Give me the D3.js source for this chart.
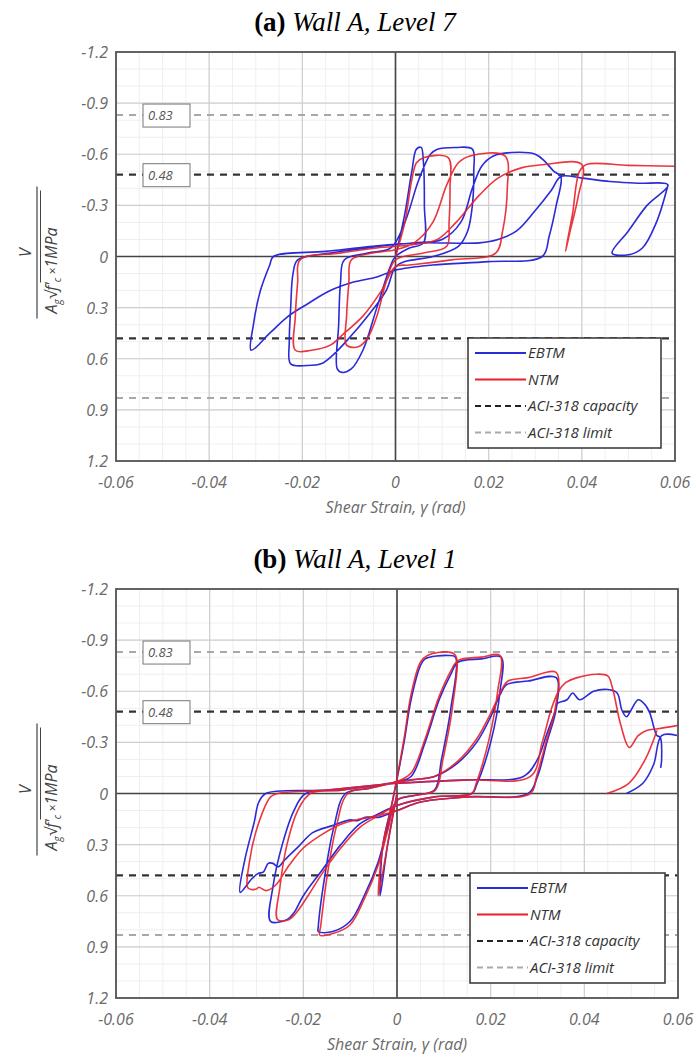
<!DOCTYPE html>
<html>
<head>
<meta charset="utf-8">
<script src="https://cdn.jsdelivr.net/npm/d3@7"></script>
<style>
  body { margin: 0; background: #fff; }
  svg { display: block; }
  .tick-label { font-family: "Open Sans", sans-serif; font-style: italic; fill: #6a6a6a; font-size: 16px; }
  .title { font-family: "Liberation Serif", "Times New Roman", serif; font-size: 27px; fill: #000; }
  .legend-text { font-family: "Open Sans", sans-serif; font-style: italic; font-size: 15px; fill: #333; }
</style>
</head>
<body>
<div id="chart"></div>
<script>
var width = 696;
var height = 1059;

// axis ticks
var strainTicks = [-0.06, -0.04, -0.02, 0, 0.02, 0.04, 0.06];
var vTicks = [-1.2, -0.9, -0.6, -0.3, 0, 0.3, 0.6, 0.9, 1.2];

// ACI-318 reference levels
var aciCapacity = 0.48;
var aciLimit = 0.83;

var legendLabels = ["EBTM", "NTM", "ACI-318 capacity", "ACI-318 limit"];

// Wall A, Level 7 -- [shear strain (rad), normalised shear]
var level7Ebtm = [
  [0, 0], [0.002, -0.25], [0.0035, -0.5], [0.0045, -0.63], [0.0055, -0.64], [0.006, -0.55], [0.0062, -0.3], [0.006, -0.08],
  [0.003, -0.05], [0, 0], [-0.001, 0.05], [-0.004, 0.3], [-0.007, 0.55], [-0.0095, 0.66], [-0.0115, 0.68], [-0.0125, 0.66],
  [-0.0122, 0.4], [-0.0118, 0.15], [-0.011, 0.02], [-0.006, -0.02], [-0.001, -0.05],
  [0.002, -0.2], [0.005, -0.45], [0.0075, -0.6], [0.009, -0.63], [0.013, -0.64], [0.0165, -0.63], [0.0168, -0.5], [0.0165, -0.3],
  [0.0155, -0.15], [0.0135, -0.06], [0.008, 0.0], [0.002, 0.03], [0, 0.06],
  [-0.002, 0.2], [-0.006, 0.35], [-0.01, 0.48], [-0.0135, 0.58], [-0.016, 0.63], [-0.019, 0.64], [-0.0225, 0.63], [-0.0228, 0.5],
  [-0.0225, 0.3], [-0.022, 0.1], [-0.021, 0.02], [-0.014, -0.02], [-0.006, -0.05], [0, -0.07],
  [0.004, -0.08], [0.01, -0.1], [0.014, -0.2], [0.0165, -0.4], [0.0185, -0.53], [0.021, -0.59], [0.025, -0.61], [0.03, -0.6],
  [0.032, -0.56], [0.034, -0.5], [0.0355, -0.47], [0.0345, -0.3], [0.033, -0.12], [0.0315, 0.0], [0.02, 0.03], [0.008, 0.05], [0, 0.08],
  [-0.004, 0.12], [-0.009, 0.15], [-0.014, 0.2], [-0.019, 0.28], [-0.023, 0.35], [-0.027, 0.45], [-0.031, 0.55], [-0.0305, 0.4],
  [-0.029, 0.2], [-0.027, 0.05], [-0.0262, 0.0], [-0.015, -0.03], [-0.005, -0.06], [0.005, -0.08], [0.018, -0.08],
  [0.022, -0.1], [0.026, -0.15], [0.03, -0.27], [0.0335, -0.39], [0.0355, -0.47], [0.04, -0.46], [0.046, -0.44], [0.052, -0.43],
  [0.0585, -0.42], [0.054, -0.3], [0.05, -0.15], [0.0465, -0.02], [0.05, -0.01], [0.053, -0.05], [0.056, -0.2], [0.0585, -0.42]
];
var level7Ntm = [
  [0, 0], [0.002, -0.2], [0.0035, -0.45], [0.0045, -0.55], [0.006, -0.58], [0.0113, -0.58], [0.0117, -0.4], [0.0115, -0.2],
  [0.011, -0.06], [0.006, -0.02], [0, 0.02],
  [-0.002, 0.15], [-0.004, 0.35], [-0.006, 0.48], [-0.008, 0.53], [-0.0105, 0.52], [-0.0105, 0.35], [-0.01, 0.15], [-0.0095, 0.02],
  [-0.005, -0.02], [0, -0.04],
  [0.004, -0.08], [0.008, -0.2], [0.011, -0.42], [0.0135, -0.55], [0.016, -0.59], [0.0235, -0.59], [0.024, -0.4], [0.023, -0.15],
  [0.0215, -0.02], [0.012, 0.02], [0.003, 0.05], [0, 0.06],
  [-0.003, 0.2], [-0.007, 0.35], [-0.011, 0.45], [-0.014, 0.52], [-0.018, 0.55], [-0.0215, 0.55], [-0.0215, 0.35], [-0.021, 0.15],
  [-0.0205, 0.02], [-0.012, -0.02], [-0.004, -0.05], [0.004, -0.07],
  [0.009, -0.1], [0.013, -0.2], [0.018, -0.36], [0.022, -0.46], [0.027, -0.52], [0.032, -0.54], [0.04, -0.54], [0.0392, -0.35],
  [0.0375, -0.15], [0.0365, -0.03], [0.038, -0.25], [0.0395, -0.5], [0.041, -0.54], [0.05, -0.535], [0.06, -0.53]
];

// Wall A, Level 1
var level1Ebtm = [
  [0, 0], [-0.002, 0.3], [-0.0036, 0.6], [-0.003, 0.3], [-0.001, 0.05],
  [0.0015, -0.3], [0.003, -0.55], [0.005, -0.75], [0.006, -0.79], [0.011, -0.81], [0.0125, -0.8], [0.0115, -0.5], [0.0095, -0.2],
  [0.008, -0.02], [0.004, 0.01], [0, 0.04],
  [-0.002, 0.2], [-0.004, 0.4], [-0.007, 0.6], [-0.01, 0.75], [-0.0137, 0.81], [-0.0168, 0.81], [-0.0168, 0.78], [-0.0155, 0.5],
  [-0.0135, 0.2], [-0.011, 0.0], [-0.006, -0.03], [0, -0.07],
  [0.003, -0.1], [0.006, -0.3], [0.009, -0.55], [0.0115, -0.7], [0.013, -0.77], [0.018, -0.79], [0.0222, -0.8], [0.022, -0.6],
  [0.02, -0.3], [0.017, -0.05], [0.016, 0.0], [0.008, 0.02], [0, 0.07],
  [-0.004, 0.12], [-0.008, 0.18], [-0.012, 0.3], [-0.016, 0.45], [-0.02, 0.6], [-0.022, 0.7], [-0.0235, 0.74], [-0.027, 0.75],
  [-0.0265, 0.55], [-0.0245, 0.3], [-0.022, 0.1], [-0.0195, 0.0], [-0.012, -0.02], [-0.004, -0.05], [0.003, -0.08],
  [0.008, -0.1], [0.013, -0.18], [0.017, -0.3], [0.02, -0.45], [0.022, -0.58], [0.0235, -0.64], [0.028, -0.66], [0.034, -0.68],
  [0.034, -0.5], [0.032, -0.3], [0.03, -0.1], [0.028, 0.0], [0.015, 0.02], [0.005, 0.05], [0, 0.1],
  [-0.004, 0.14], [-0.0068, 0.14], [-0.0085, 0.16], [-0.01, 0.155], [-0.014, 0.19], [-0.018, 0.23], [-0.021, 0.31], [-0.024, 0.39],
  [-0.0254, 0.43], [-0.0265, 0.41], [-0.0275, 0.41], [-0.0285, 0.46], [-0.0297, 0.47], [-0.031, 0.5], [-0.0335, 0.58],
  [-0.0325, 0.39], [-0.0305, 0.17], [-0.0295, 0.05], [-0.028, 0.0], [-0.015, -0.02], [0, -0.06], [0.015, -0.08], [0.027, -0.1],
  [0.03, -0.2], [0.032, -0.35], [0.034, -0.5], [0.0343, -0.53], [0.0363, -0.55], [0.0375, -0.59], [0.039, -0.55], [0.042, -0.6],
  [0.045, -0.61], [0.047, -0.59], [0.048, -0.49], [0.049, -0.45], [0.05, -0.49], [0.0515, -0.55], [0.053, -0.52], [0.054, -0.47],
  [0.0555, -0.34], [0.0562, -0.33], [0.0565, -0.2], [0.0563, -0.15],
  null,
  [0.049, 0.0], [0.0525, -0.06], [0.0548, -0.17], [0.0565, -0.34], [0.0598, -0.34]
];
var level1Ntm = [
  [0, 0], [-0.002, 0.3], [-0.004, 0.6], [-0.003, 0.3], [-0.001, 0.05],
  [0.0015, -0.32], [0.003, -0.58], [0.005, -0.77], [0.0065, -0.81], [0.011, -0.83], [0.0125, -0.81], [0.0118, -0.5], [0.0098, -0.2],
  [0.0082, -0.02], [0.004, 0.01], [0, 0.04],
  [-0.002, 0.22], [-0.004, 0.42], [-0.007, 0.62], [-0.01, 0.77], [-0.0135, 0.82], [-0.0165, 0.83], [-0.0163, 0.78], [-0.015, 0.5],
  [-0.013, 0.2], [-0.0105, 0.0], [-0.006, -0.03], [0, -0.07],
  [0.003, -0.12], [0.006, -0.32], [0.009, -0.57], [0.0115, -0.72], [0.013, -0.78], [0.018, -0.8], [0.022, -0.81], [0.0215, -0.6],
  [0.0195, -0.3], [0.0168, -0.05], [0.016, 0.0], [0.008, 0.02], [0, 0.07],
  [-0.004, 0.13], [-0.008, 0.2], [-0.012, 0.32], [-0.016, 0.47], [-0.019, 0.6], [-0.0215, 0.7], [-0.023, 0.74], [-0.0255, 0.74],
  [-0.025, 0.55], [-0.0235, 0.3], [-0.0212, 0.1], [-0.0185, 0.0], [-0.012, -0.02], [-0.004, -0.05], [0.003, -0.08],
  [0.008, -0.1], [0.013, -0.19], [0.017, -0.32], [0.02, -0.47], [0.0222, -0.6], [0.0237, -0.66], [0.028, -0.68], [0.034, -0.71],
  [0.0338, -0.5], [0.0318, -0.3], [0.0298, -0.1], [0.0285, 0.0], [0.015, 0.02], [0.005, 0.05], [0, 0.1],
  [-0.004, 0.13], [-0.008, 0.15], [-0.012, 0.18], [-0.016, 0.24], [-0.02, 0.32], [-0.023, 0.42], [-0.026, 0.54], [-0.028, 0.57],
  [-0.0295, 0.55], [-0.03, 0.56], [-0.0318, 0.555],
  [-0.0315, 0.4], [-0.0295, 0.17], [-0.027, 0.02], [-0.0255, 0.0], [-0.015, -0.02], [0, -0.06], [0.015, -0.08], [0.0285, -0.1],
  [0.031, -0.3], [0.033, -0.5], [0.0345, -0.6], [0.036, -0.65], [0.0385, -0.68], [0.0425, -0.7], [0.045, -0.69], [0.046, -0.62],
  [0.0478, -0.4], [0.0496, -0.27], [0.0515, -0.34], [0.0533, -0.37], [0.0558, -0.38], [0.06, -0.4],
  null,
  [0.0448, 0.0], [0.0495, -0.06], [0.053, -0.2], [0.0555, -0.37]
];

var panels = [
  { tag: "(a)", name: " Wall A, Level 7", left: 116, right: 675, top: 52, bottom: 461, titleY: 31,
    ebtm: level7Ebtm, ntm: level7Ntm, legend: [468, 338, 193, 110] },
  { tag: "(b)", name: " Wall A, Level 1", left: 116, right: 678, top: 589, bottom: 998, titleY: 568,
    ebtm: level1Ebtm, ntm: level1Ntm, legend: [470, 873, 195, 110] }
];

var blue = "#2a2ad6";
var red = "#e8202a";

var svg = d3.select("#chart").append("svg")
    .attr("width", width)
    .attr("height", height);

panels.forEach(function(p, i) {
  var x = d3.scaleLinear().domain([-0.06, 0.06]).range([p.left, p.right]);
  var y = d3.scaleLinear().domain([-1.2, 1.2]).range([p.top, p.bottom]);
  var g = svg.append("g");

  // title
  var t = g.append("text").attr("class", "title")
      .attr("x", 355).attr("y", p.titleY).attr("text-anchor", "middle");
  t.append("tspan").attr("font-weight", "bold").text(p.tag);
  t.append("tspan").attr("font-style", "italic").text(p.name);

  // minor grid
  g.append("g").selectAll("line").data(d3.range(-0.06, 0.0601, 0.005))
    .enter().append("line")
      .attr("x1", d => x(d)).attr("x2", d => x(d))
      .attr("y1", p.top).attr("y2", p.bottom)
      .attr("stroke", "#efefef").attr("stroke-width", 1);
  g.append("g").selectAll("line").data(d3.range(-1.2, 1.2001, 0.1))
    .enter().append("line")
      .attr("x1", p.left).attr("x2", p.right)
      .attr("y1", d => y(d)).attr("y2", d => y(d))
      .attr("stroke", "#efefef").attr("stroke-width", 1);

  // major grid
  g.append("g").selectAll("line").data(strainTicks)
    .enter().append("line")
      .attr("x1", d => x(d)).attr("x2", d => x(d))
      .attr("y1", p.top).attr("y2", p.bottom)
      .attr("stroke", "#cfcfcf").attr("stroke-width", 1.2);
  g.append("g").selectAll("line").data(vTicks)
    .enter().append("line")
      .attr("x1", p.left).attr("x2", p.right)
      .attr("y1", d => y(d)).attr("y2", d => y(d))
      .attr("stroke", "#cfcfcf").attr("stroke-width", 1.2);

  // ACI lines
  [aciLimit, -aciLimit].forEach(function(v) {
    g.append("line").attr("x1", p.left).attr("x2", p.right)
      .attr("y1", y(v)).attr("y2", y(v))
      .attr("stroke", "#a8a8a8").attr("stroke-width", 2).attr("stroke-dasharray", "7,6");
  });
  [aciCapacity, -aciCapacity].forEach(function(v) {
    g.append("line").attr("x1", p.left).attr("x2", p.right)
      .attr("y1", y(v)).attr("y2", y(v))
      .attr("stroke", "#333").attr("stroke-width", 2.2).attr("stroke-dasharray", "7,6");
  });

  // zero axes
  g.append("line").attr("x1", x(0)).attr("x2", x(0)).attr("y1", p.top).attr("y2", p.bottom)
    .attr("stroke", "#444").attr("stroke-width", 1.6);
  g.append("line").attr("x1", p.left).attr("x2", p.right).attr("y1", y(0)).attr("y2", y(0))
    .attr("stroke", "#444").attr("stroke-width", 1.6);

  // curves
  g.append("clipPath").attr("id", "clip" + i).append("rect")
    .attr("x", p.left).attr("y", p.top).attr("width", p.right - p.left).attr("height", p.bottom - p.top);
  var line = d3.line()
    .defined(d => d != null)
    .x(d => x(d[0])).y(d => y(d[1]))
    .curve(d3.curveCatmullRom.alpha(0.5));
  g.append("path").datum(p.ebtm).attr("d", line)
    .attr("fill", "none").attr("stroke", blue).attr("stroke-width", 1.6)
    .attr("clip-path", "url(#clip" + i + ")");
  g.append("path").datum(p.ntm).attr("d", line)
    .attr("fill", "none").attr("stroke", red).attr("stroke-width", 1.6).attr("stroke-opacity", 0.9)
    .attr("clip-path", "url(#clip" + i + ")");

  // frame
  g.append("rect").attr("x", p.left).attr("y", p.top)
    .attr("width", p.right - p.left).attr("height", p.bottom - p.top)
    .attr("fill", "none").attr("stroke", "#555").attr("stroke-width", 1.8);

  // boxed level labels
  [aciLimit, aciCapacity].forEach(function(v) {
    g.append("rect").attr("x", 143).attr("y", y(-v) - 11).attr("width", 47).attr("height", 23)
      .attr("fill", "#fff").attr("stroke", "#777").attr("stroke-width", 1);
    g.append("text").attr("class", "tick-label").style("font-size", "13px").style("fill", "#555")
      .attr("x", 148).attr("y", y(-v) + 5).text(v.toFixed(2));
  });

  // tick labels
  g.append("g").selectAll("text").data(vTicks)
    .enter().append("text").attr("class", "tick-label")
      .attr("x", p.left - 8).attr("y", d => y(d) + 6)
      .attr("text-anchor", "end")
      .text(d => d === 0 ? "0" : d.toFixed(1));
  g.append("g").selectAll("text").data(strainTicks)
    .enter().append("text").attr("class", "tick-label")
      .attr("x", d => x(d)).attr("y", p.bottom + 27)
      .attr("text-anchor", "middle")
      .text(d => d === 0 ? "0" : d.toFixed(2));

  // x-axis title
  g.append("text").attr("class", "tick-label")
    .attr("x", x(0)).attr("y", p.bottom + 52).attr("text-anchor", "middle")
    .text("Shear Strain, \u03b3 (rad)");

  // y-axis title (rotated fraction)
  var cy = (p.top + p.bottom) / 2 - 4;
  var yl = g.append("g").attr("transform", "translate(37," + cy + ") rotate(-90)");
  yl.append("text").attr("class", "tick-label").style("fill", "#444")
    .attr("x", 0).attr("y", -6).attr("text-anchor", "middle").text("V");
  yl.append("line").attr("x1", -66).attr("x2", 66).attr("y1", 0).attr("y2", 0)
    .attr("stroke", "#444").attr("stroke-width", 1.2);
  yl.append("line").attr("x1", -30).attr("x2", 62).attr("y1", 3.5).attr("y2", 3.5)
    .attr("stroke", "#444").attr("stroke-width", 1);
  var den = yl.append("text").attr("class", "tick-label").style("fill", "#444")
    .attr("x", -61).attr("y", 20).attr("text-anchor", "start");
  den.append("tspan").text("A");
  den.append("tspan").attr("dy", 4).style("font-size", "10px").text("g");
  den.append("tspan").attr("dy", -4).text("\u221a");
  den.append("tspan").text("f'");
  den.append("tspan").attr("dy", 4).style("font-size", "10px").text("c");
  den.append("tspan").attr("dy", -4).style("font-size", "12px").text(" \u00d7");
  den.append("tspan").text("1MPa");

  // legend
  var L = p.legend;
  g.append("rect").attr("x", L[0]).attr("y", L[1]).attr("width", L[2]).attr("height", L[3])
    .attr("fill", "#fff").attr("stroke", "#333").attr("stroke-width", 1.5);
  var styles = [
    { c: blue, w: 2.2, dash: null },
    { c: red, w: 2.2, dash: null },
    { c: "#222", w: 2.2, dash: "6,4" },
    { c: "#aaa", w: 2, dash: "6,4" }
  ];
  legendLabels.forEach(function(lbl, k) {
    var ly = L[1] + 15 + k * 26.5;
    g.append("line").attr("x1", L[0] + 7).attr("x2", L[0] + 58).attr("y1", ly).attr("y2", ly)
      .attr("stroke", styles[k].c).attr("stroke-width", styles[k].w)
      .attr("stroke-dasharray", styles[k].dash);
    g.append("text").attr("class", "legend-text")
      .attr("x", L[0] + 60).attr("y", ly + 5).text(lbl);
  });
});
</script>
</body>
</html>
